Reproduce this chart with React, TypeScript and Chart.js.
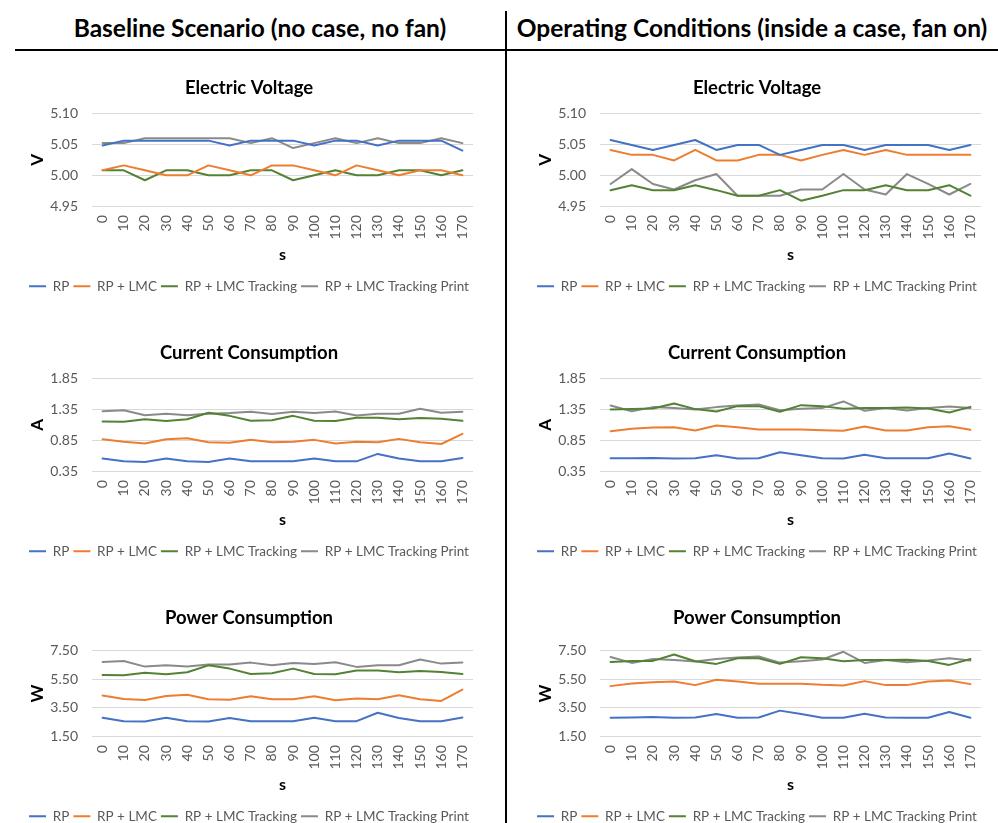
import { useEffect, useRef } from "react";
import { Chart, registerables } from "chart.js";

Chart.register(...registerables);

// Sample times (s)
const SECONDS = ["0", "10", "20", "30", "40", "50", "60", "70", "80", "90", "100", "110", "120", "130", "140", "150", "160", "170"];

const SERIES_NAMES = ["RP", "RP + LMC", "RP + LMC Tracking", "RP + LMC Tracking Print"];
const SERIES_COLORS = ["#4472C4", "#ED7D31", "#548235", "#8A8A8A"];

// Baseline scenario (no case, no fan) — electric voltage (V)
const baseVoltRP = [5.048, 5.056, 5.056, 5.056, 5.056, 5.056, 5.048, 5.056, 5.056, 5.056, 5.048, 5.056, 5.056, 5.048, 5.056, 5.056, 5.056, 5.040];
const baseVoltLMC = [5.008, 5.016, 5.008, 5.000, 5.000, 5.016, 5.008, 5.000, 5.016, 5.016, 5.008, 5.000, 5.016, 5.008, 5.000, 5.008, 5.008, 5.000];
const baseVoltTracking = [5.008, 5.008, 4.992, 5.008, 5.008, 5.000, 5.000, 5.008, 5.008, 4.992, 5.000, 5.008, 5.000, 5.000, 5.008, 5.008, 5.000, 5.008];
const baseVoltPrint = [5.052, 5.052, 5.060, 5.060, 5.060, 5.060, 5.060, 5.052, 5.060, 5.044, 5.052, 5.060, 5.052, 5.060, 5.052, 5.052, 5.060, 5.052];

// Operating conditions (inside a case, fan on) — electric voltage (V)
const opVoltRP = [5.057, 5.049, 5.041, 5.049, 5.057, 5.041, 5.049, 5.049, 5.033, 5.041, 5.049, 5.049, 5.041, 5.049, 5.049, 5.049, 5.041, 5.049];
const opVoltLMC = [5.041, 5.033, 5.033, 5.024, 5.041, 5.024, 5.024, 5.033, 5.033, 5.024, 5.033, 5.041, 5.033, 5.041, 5.033, 5.033, 5.033, 5.033];
const opVoltTracking = [4.976, 4.984, 4.976, 4.976, 4.984, 4.976, 4.967, 4.967, 4.976, 4.959, 4.967, 4.976, 4.976, 4.984, 4.976, 4.976, 4.984, 4.967];
const opVoltPrint = [4.986, 5.010, 4.986, 4.977, 4.992, 5.002, 4.967, 4.967, 4.967, 4.977, 4.977, 5.002, 4.977, 4.969, 5.002, 4.986, 4.969, 4.986];

// Baseline scenario — current consumption (A)
const baseCurrRP = [0.555, 0.512, 0.5, 0.555, 0.51, 0.5, 0.555, 0.51, 0.51, 0.51, 0.555, 0.51, 0.51, 0.63, 0.555, 0.51, 0.51, 0.565];
const baseCurrLMC = [0.868, 0.825, 0.8, 0.868, 0.884, 0.82, 0.81, 0.86, 0.82, 0.825, 0.857, 0.8, 0.825, 0.82, 0.873, 0.82, 0.79, 0.955];
const baseCurrTracking = [1.154, 1.148, 1.19, 1.16, 1.19, 1.294, 1.245, 1.165, 1.175, 1.245, 1.165, 1.16, 1.213, 1.213, 1.19, 1.21, 1.197, 1.165];
const baseCurrPrint = [1.32, 1.337, 1.256, 1.278, 1.256, 1.28, 1.29, 1.31, 1.273, 1.31, 1.29, 1.316, 1.25, 1.278, 1.278, 1.359, 1.294, 1.31];

// Operating conditions — current consumption (A)
const opCurrRP = [0.56, 0.56, 0.566, 0.555, 0.56, 0.61, 0.555, 0.56, 0.658, 0.61, 0.56, 0.555, 0.615, 0.56, 0.56, 0.56, 0.636, 0.555];
const opCurrLMC = [0.997, 1.035, 1.057, 1.062, 1.008, 1.089, 1.062, 1.025, 1.025, 1.025, 1.013, 1.003, 1.073, 1.008, 1.008, 1.062, 1.078, 1.019];
const opCurrTracking = [1.348, 1.354, 1.364, 1.445, 1.354, 1.316, 1.402, 1.402, 1.31, 1.418, 1.402, 1.359, 1.37, 1.37, 1.38, 1.364, 1.3, 1.39];
const opCurrPrint = [1.413, 1.32, 1.386, 1.37, 1.348, 1.386, 1.413, 1.429, 1.337, 1.359, 1.37, 1.478, 1.327, 1.37, 1.332, 1.37, 1.397, 1.37];

// Baseline scenario — power consumption (W)
const basePowRP = [2.8, 2.56, 2.54, 2.8, 2.56, 2.54, 2.78, 2.56, 2.56, 2.56, 2.8, 2.56, 2.56, 3.15, 2.78, 2.56, 2.56, 2.82];
const basePowLMC = [4.36, 4.12, 4.05, 4.33, 4.41, 4.1, 4.07, 4.31, 4.1, 4.1, 4.31, 4.03, 4.15, 4.1, 4.38, 4.1, 3.98, 4.78];
const basePowTracking = [5.8, 5.78, 5.96, 5.85, 5.99, 6.48, 6.25, 5.87, 5.92, 6.25, 5.87, 5.85, 6.11, 6.11, 5.99, 6.08, 6.01, 5.87];
const basePowPrint = [6.72, 6.79, 6.39, 6.48, 6.39, 6.53, 6.53, 6.67, 6.48, 6.65, 6.58, 6.7, 6.37, 6.48, 6.48, 6.89, 6.6, 6.67];

// Operating conditions — power consumption (W)
const opPowRP = [2.8, 2.82, 2.85, 2.8, 2.82, 3.06, 2.8, 2.82, 3.3, 3.06, 2.8, 2.8, 3.08, 2.82, 2.8, 2.8, 3.2, 2.8];
const opPowLMC = [5.02, 5.21, 5.3, 5.35, 5.09, 5.47, 5.35, 5.19, 5.19, 5.19, 5.11, 5.07, 5.37, 5.09, 5.09, 5.35, 5.42, 5.16];
const opPowTracking = [6.72, 6.79, 6.79, 7.24, 6.77, 6.58, 6.98, 6.98, 6.58, 7.05, 6.98, 6.77, 6.85, 6.85, 6.87, 6.79, 6.51, 6.93];
const opPowPrint = [7.07, 6.65, 6.93, 6.85, 6.75, 6.93, 7.03, 7.1, 6.67, 6.77, 6.89, 7.43, 6.65, 6.85, 6.7, 6.82, 6.98, 6.82];

const FONT = "Lato, 'Open Sans', sans-serif";
const TEXT_GREY = "#595959";

type PanelProps = {
  left: number;
  top: number;
  title: string;
  unit: string;
  series: number[][];
  yMin: number;
  yMax: number;
  yStep: number;
  titleGap: number;
};

function LinePanel(p: PanelProps) {
  const ref = useRef<HTMLCanvasElement>(null);

  useEffect(() => {
    const canvas = ref.current;
    if (!canvas) return;
    const chart = new Chart(canvas, {
      type: "line",
      data: {
        labels: SECONDS,
        datasets: p.series.map((values, i) => ({
          label: SERIES_NAMES[i],
          data: values,
          borderColor: SERIES_COLORS[i],
          backgroundColor: SERIES_COLORS[i],
          borderWidth: 2,
          pointRadius: 0,
          pointHoverRadius: 0,
          tension: 0,
          borderJoinStyle: "round" as const,
          borderCapStyle: "round" as const,
        })),
      },
      options: {
        responsive: false,
        animation: false,
        devicePixelRatio: 1,
        events: [],
        layout: { padding: { left: 5, right: 5, top: 0, bottom: 0 } },
        plugins: {
          title: {
            display: true,
            text: p.title,
            color: "#000000",
            font: { family: FONT, size: 18.5, weight: "bold" },
            padding: { top: 7, bottom: p.titleGap },
          },
          legend: {
            position: "bottom",
            labels: {
              boxWidth: 17,
              boxHeight: 2,
              padding: 4,
              color: TEXT_GREY,
              font: { family: FONT, size: 13.5 },
              generateLabels: (c: Chart) =>
                Chart.defaults.plugins.legend.labels
                  .generateLabels(c)
                  .map((item) => ({ ...item, lineWidth: 0 })),
            },
          },
          tooltip: { enabled: false },
        },
        scales: {
          x: {
            offset: true,
            grid: { display: false, drawTicks: false },
            border: { display: false },
            ticks: {
              autoSkip: false,
              minRotation: 90,
              maxRotation: 90,
              padding: 9,
              color: TEXT_GREY,
              font: { family: FONT, size: 14 },
            },
            title: {
              display: true,
              text: "s",
              color: "#000000",
              font: { family: FONT, size: 16, weight: "bold" },
              padding: { top: 0, bottom: 10.6 },
            },
            afterFit: (s: any) => {
              s.height = 69.25;
              s.paddingLeft = 0;
              s.paddingRight = 0;
            },
          },
          y: {
            min: p.yMin,
            max: p.yMax,
            grid: { color: "#D9D9D9", lineWidth: 1, drawTicks: false },
            border: { display: false },
            ticks: {
              stepSize: p.yStep,
              padding: 14,
              color: TEXT_GREY,
              font: { family: FONT, size: 14 },
              callback: (v: any) => Number(v).toFixed(2),
            },
            title: {
              display: true,
              text: p.unit,
              color: "#000000",
              font: { family: FONT, size: 17, weight: "bold" },
              padding: { top: 2, bottom: 0 },
            },
            afterFit: (s: any) => {
              s.width = 67;
            },
          },
        },
      },
    });
    return () => chart.destroy();
  }, []);

  return (
    <canvas
      ref={ref}
      width={458}
      height={233}
      style={{ position: "absolute", left: p.left, top: p.top, display: "block" }}
    />
  );
}

const headerStyle: React.CSSProperties = {
  position: "absolute",
  top: 13.8,
  fontFamily: FONT,
  fontWeight: 700,
  fontSize: 24.5,
  lineHeight: "28px",
  color: "#000",
  textAlign: "center",
  whiteSpace: "nowrap",
};

export default function App() {
  return (
    <div
      style={{
        position: "absolute",
        left: 0,
        top: 0,
        width: 998,
        height: 823,
        overflow: "hidden",
        background: "#ffffff",
      }}
    >
      <div style={{ ...headerStyle, left: 0, width: 520 }}>Baseline Scenario (no case, no fan)</div>
      <div style={{ ...headerStyle, left: 506, width: 492 }}>Operating Conditions (inside a case, fan on)</div>
      <div style={{ position: "absolute", left: 15, top: 49, width: 983, height: 2, background: "#000" }} />
      <div style={{ position: "absolute", left: 505, top: 11, width: 2, height: 812, background: "#000" }} />

      <LinePanel left={20} top={70} title="Electric Voltage" unit="V" yMin={4.95} yMax={5.1} yStep={0.05} titleGap={14.2}
        series={[baseVoltRP, baseVoltLMC, baseVoltTracking, baseVoltPrint]} />
      <LinePanel left={528} top={70} title="Electric Voltage" unit="V" yMin={4.95} yMax={5.1} yStep={0.05} titleGap={14.2}
        series={[opVoltRP, opVoltLMC, opVoltTracking, opVoltPrint]} />

      <LinePanel left={20} top={335} title="Current Consumption" unit="A" yMin={0.35} yMax={1.85} yStep={0.5} titleGap={14.2}
        series={[baseCurrRP, baseCurrLMC, baseCurrTracking, baseCurrPrint]} />
      <LinePanel left={528} top={335} title="Current Consumption" unit="A" yMin={0.35} yMax={1.85} yStep={0.5} titleGap={14.2}
        series={[opCurrRP, opCurrLMC, opCurrTracking, opCurrPrint]} />

      <LinePanel left={20} top={600} title="Power Consumption" unit="W" yMin={1.5} yMax={7.5} yStep={2} titleGap={21.6}
        series={[basePowRP, basePowLMC, basePowTracking, basePowPrint]} />
      <LinePanel left={528} top={600} title="Power Consumption" unit="W" yMin={1.5} yMax={7.5} yStep={2} titleGap={21.6}
        series={[opPowRP, opPowLMC, opPowTracking, opPowPrint]} />
    </div>
  );
}
